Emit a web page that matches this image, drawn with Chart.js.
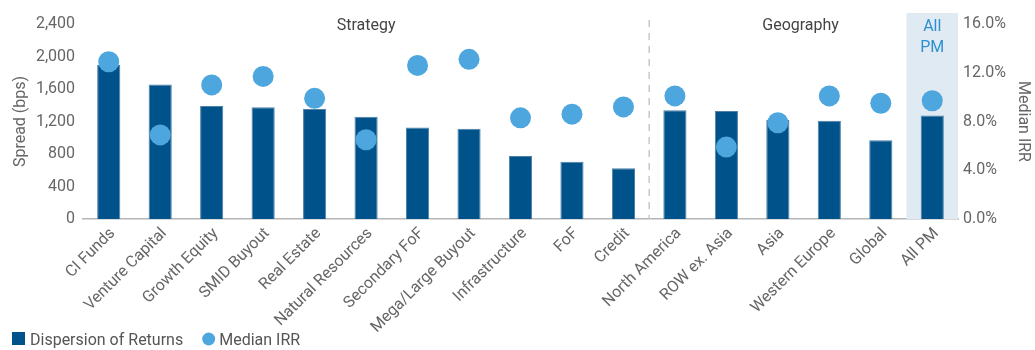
<!DOCTYPE html>
<html>
<head>
<meta charset="utf-8">
<script src="https://cdn.jsdelivr.net/npm/chart.js@4/dist/chart.umd.min.js"></script>
<style>
  html, body { margin: 0; padding: 0; background: #fff; }
  #wrap { width: 1035px; height: 350px; position: relative; }
</style>
</head>
<body>
<div id="wrap"><canvas id="spreadChart"></canvas></div>
<script>
// categories: 11 strategies, 5 geographies, then the all-PM total
var categories = ["CI Funds", "Venture Capital", "Growth Equity", "SMID Buyout", "Real Estate",
    "Natural Resources", "Secondary FoF", "Mega/Large Buyout", "Infrastructure", "FoF", "Credit",
    "North America", "ROW ex. Asia", "Asia", "Western Europe", "Global", "All PM"];

// spread between top and bottom quartile, bps
var dispersion = [1895, 1655, 1390, 1375, 1355, 1260, 1125, 1110, 775, 705, 625,
    1340, 1330, 1220, 1210, 970, 1275];

// median IRR, %
var medianIrr = [12.9, 6.9, 11.0, 11.7, 9.9, 6.5, 12.6, 13.1, 8.3, 8.6, 9.2,
    10.1, 5.9, 7.9, 10.1, 9.5, 9.7];

var spreadTicks = [0, 400, 800, 1200, 1600, 2000, 2400];
var irrTicks = [0, 4, 8, 12, 16];

var lastStrategy = 10;   // index of "Credit"
var totalIndex = 16;     // index of "All PM"

var barColor = '#00538a';
var dotColor = '#4da6dd';
var textColor = '#666666';
var fontFamily = 'Roboto, "Noto Sans", sans-serif';

// light panel behind All PM, dashed divider and the group headings
var groupPlugin = {
    id: 'groups',
    beforeDatasetsDraw: function(chart) {
        var ctx = chart.ctx;
        var x = chart.scales.x;
        var area = chart.chartArea;
        var half = (x.getPixelForValue(1) - x.getPixelForValue(0)) / 2;

        ctx.save();
        ctx.fillStyle = '#dfeaf2';
        var px = x.getPixelForValue(totalIndex);
        ctx.fillRect(px - half, 13, half * 2, area.bottom - 13);

        var divX = x.getPixelForValue(lastStrategy) + half;
        ctx.strokeStyle = '#c8c8c8';
        ctx.lineWidth = 1.5;
        ctx.setLineDash([7, 6]);
        ctx.beginPath();
        ctx.moveTo(divX, 20);
        ctx.lineTo(divX, area.bottom);
        ctx.stroke();
        ctx.setLineDash([]);

        ctx.font = '16px ' + fontFamily;
        ctx.textAlign = 'center';
        ctx.textBaseline = 'middle';
        ctx.fillStyle = '#444444';
        var stratX = (x.getPixelForValue(0) - half + divX) / 2;
        ctx.fillText('Strategy', stratX, 26);
        var geoX = (x.getPixelForValue(13) + x.getPixelForValue(14)) / 2 - 3;
        ctx.fillText('Geography', geoX, 26);

        ctx.fillStyle = '#2e8fd0';
        ctx.fillText('All', px, 27);
        ctx.fillText('PM', px, 48);
        ctx.restore();
    }
};

// category names under the axis, slanted at 45 degrees
var slantLabels = {
    id: 'slantLabels',
    afterDraw: function(chart) {
        var ctx = chart.ctx;
        var x = chart.scales.x;
        var bottom = chart.chartArea.bottom;
        ctx.save();
        ctx.font = '16px ' + fontFamily;
        ctx.fillStyle = textColor;
        ctx.textAlign = 'right';
        ctx.textBaseline = 'middle';
        chart.data.labels.forEach(function(label, i) {
            ctx.save();
            ctx.translate(x.getPixelForValue(i) + 4, bottom + 12);
            ctx.rotate(-Math.PI / 4);
            ctx.fillText(label, 0, 0);
            ctx.restore();
        });
        ctx.restore();
    }
};

// legend along the bottom left: square for the bars, dot for IRR
var legendPlugin = {
    id: 'bottomLegend',
    afterDraw: function(chart) {
        var ctx = chart.ctx;
        var y = 340;
        var cursor = 12;
        ctx.save();
        ctx.font = '16px ' + fontFamily;
        ctx.textBaseline = 'middle';
        ctx.textAlign = 'left';
        chart.data.datasets.forEach(function(ds) {
            ctx.fillStyle = ds.backgroundColor;
            if (ds.type === 'line') {
                ctx.beginPath();
                ctx.arc(cursor + 6.5, y - 1, 6.5, 0, Math.PI * 2);
                ctx.fill();
                cursor += 17;
            } else {
                ctx.fillRect(cursor, y - 8, 13, 13);
                cursor += 18;
            }
            ctx.fillStyle = '#555555';
            ctx.fillText(ds.label, cursor, y + 1);
            cursor += ctx.measureText(ds.label).width + 19;
        });
        ctx.restore();
    }
};

var ctx = document.getElementById('spreadChart').getContext('2d');

var spreadChart = new Chart(ctx, {
    type: 'bar',
    data: {
        labels: categories,
        datasets: [{
            type: 'bar',
            label: 'Dispersion of Returns',
            data: dispersion,
            yAxisID: 'y',
            backgroundColor: barColor,
            borderColor: '#4f80a8',
            borderWidth: 1,
            categoryPercentage: 1,
            barPercentage: 0.45,
            order: 1
        }, {
            type: 'line',
            label: 'Median IRR',
            data: medianIrr,
            yAxisID: 'y1',
            showLine: false,
            backgroundColor: dotColor,
            borderColor: dotColor,
            pointRadius: 10.5,
            pointHoverRadius: 10.5,
            pointBorderWidth: 0,
            order: 0
        }]
    },
    options: {
        responsive: true,
        maintainAspectRatio: false,
        animation: false,
        layout: { padding: { top: 24, left: 0, right: 0, bottom: 0 } },
        plugins: {
            legend: { display: false },
            tooltip: { enabled: false }
        },
        scales: {
            x: {
                grid: { display: false, drawTicks: false },
                border: { display: true, color: '#b5b5b5', width: 1.5 },
                ticks: { display: false },
                afterFit: function(scale) { scale.height = 131; }
            },
            y: {
                position: 'left',
                min: spreadTicks[0],
                max: spreadTicks[spreadTicks.length - 1],
                grid: { display: false, drawTicks: false },
                border: { display: false },
                afterBuildTicks: function(scale) {
                    scale.ticks = spreadTicks.map(function(v) { return { value: v }; });
                },
                ticks: {
                    color: textColor,
                    font: { family: fontFamily, size: 16 },
                    padding: 8,
                    callback: function(v) { return v.toLocaleString('en-US'); }
                },
                title: {
                    display: true,
                    text: 'Spread (bps)',
                    color: textColor,
                    font: { family: fontFamily, size: 16 },
                    padding: { top: 11, bottom: 0 }
                },
                afterFit: function(scale) { scale.width = 83; }
            },
            y1: {
                position: 'right',
                min: irrTicks[0],
                max: irrTicks[irrTicks.length - 1],
                grid: { display: false, drawTicks: false },
                border: { display: false },
                afterBuildTicks: function(scale) {
                    scale.ticks = irrTicks.map(function(v) { return { value: v }; });
                },
                ticks: {
                    color: textColor,
                    font: { family: fontFamily, size: 16 },
                    padding: 5,
                    callback: function(v) { return v.toFixed(1) + '%'; }
                },
                title: {
                    display: true,
                    text: 'Median IRR',
                    color: textColor,
                    font: { family: fontFamily, size: 16 },
                    padding: { top: 2, bottom: 0 }
                },
                afterFit: function(scale) { scale.width = 77; }
            }
        }
    },
    plugins: [groupPlugin, slantLabels, legendPlugin]
});
</script>
</body>
</html>
